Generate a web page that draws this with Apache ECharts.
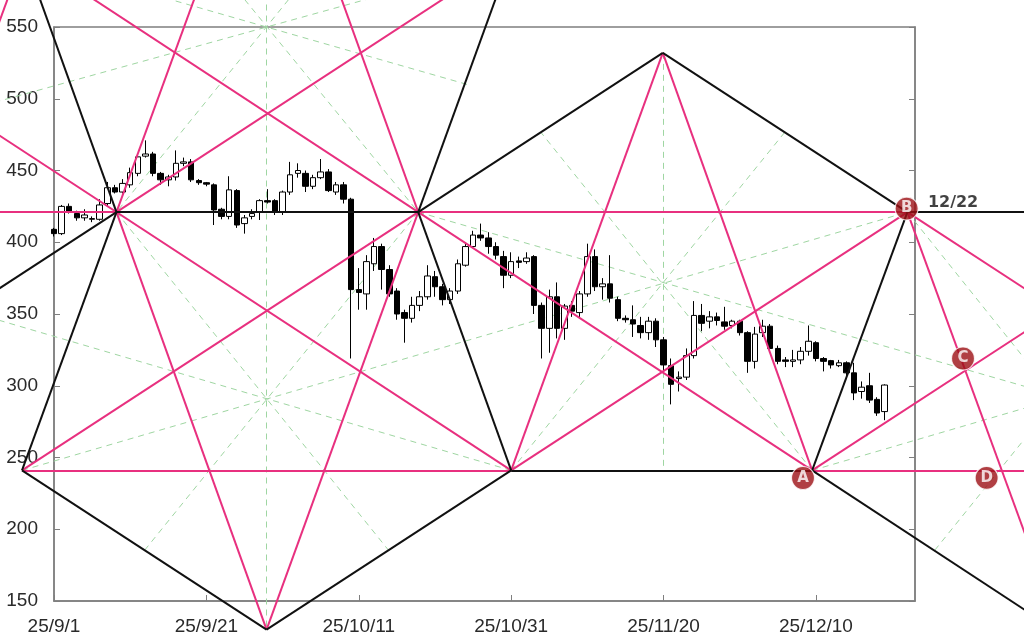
<!DOCTYPE html>
<html>
<head>
<meta charset="utf-8">
<script src="https://cdn.jsdelivr.net/npm/echarts@6/dist/echarts.min.js"></script>
<style>
  body { margin: 0; background: #fff; }
  #chart { width: 1024px; height: 643px; }
</style>
</head>
<body>
<div id="chart"></div>
<script>
  // days counted from 2025/9/1, one candle per day
  const opens = [409, 406, 425, 420, 417, 416, 416, 427, 438, 435, 440, 448, 460, 461.5, 448, 443.5, 445.5, 455, 456, 443,
    441.5, 440, 423, 418, 436, 413, 418, 421, 429, 429, 421, 435, 448, 448, 439, 445, 449, 435, 440, 430,
    367, 364, 385, 397, 381, 366, 351, 347, 356, 362, 376, 369, 360, 366, 384, 397, 405, 403, 397, 390,
    377, 387, 386.5, 390, 356, 340, 362, 340, 356, 351, 364, 390, 369, 371, 360, 347, 346, 342, 337, 345,
    332, 314, 305, 306, 321, 349, 345, 348, 344.5, 342, 345, 337, 317, 337, 341.5, 326, 318, 317, 318, 324,
    330, 319, 317.5, 314, 316, 309, 296, 300, 290.5, 282]
  const closes = [406, 425, 421, 417, 419, 416.5, 426, 438, 435, 441, 448.5, 459.5, 461.5, 448, 443.5, 445.5, 455, 456, 443.5, 441.5,
    440.5, 422.5, 418, 436.5, 412, 417, 420, 429, 428, 421, 435, 447, 450, 439, 445, 449, 436, 440, 430, 367,
    365, 386.5, 397, 381, 364, 350, 347, 356, 362, 376.5, 369, 360, 366, 385, 397, 405, 403, 397, 391, 377,
    386.5, 386, 389, 356, 340, 362, 340, 355.5, 352, 364, 390, 369, 371, 361, 347, 346, 343, 337, 345, 332,
    314.5, 301, 306, 321, 349, 343.5, 348, 345.5, 341.5, 345, 337, 317, 336, 341.5, 326, 317, 317, 318, 324, 331,
    319, 317, 314.5, 316, 309, 295, 299, 290, 281, 300.5]
  const lows = [404, 405, 420, 415, 415, 414, 415, 425, 434, 434, 438, 446, 459, 446, 440, 439, 443, 453, 442, 440,
    439, 412, 416, 416, 410, 406, 416, 415.5, 427, 419, 419, 433, 445, 435, 437, 444, 435, 433, 427, 319,
    353, 353, 380, 367, 362, 346, 330, 344, 352, 360, 362, 356, 357, 364, 383, 396, 401, 392, 388, 368,
    375, 382, 385, 350, 319, 323, 333, 332, 348, 347, 362, 366, 360, 358, 345, 344, 334, 333, 332, 327,
    310, 287, 296, 304, 319, 338, 340, 342, 339, 340, 335, 309, 312, 334, 324, 315, 313, 313, 315, 321,
    317, 310, 312, 313, 305, 290, 291, 288, 279, 276]
  const highs = [410, 426, 427, 422, 423, 418, 430, 442, 440, 444, 452, 461, 471, 463, 449, 447, 464, 459, 458, 444,
    442, 441, 424, 446, 437, 419, 423, 430, 437, 430, 436, 456, 455, 450, 447, 458, 451, 442, 442, 431,
    382, 391, 403, 399, 384, 368, 353, 362, 366, 384, 380, 371, 368, 388, 400, 408, 413, 407, 400, 394,
    393, 390, 393, 391, 358, 367, 372, 357, 359, 366, 399, 395, 375, 391, 362, 349, 356, 348, 348, 347,
    334, 319, 310, 326, 359, 357, 352, 351, 355, 346, 346, 338, 341, 346, 343, 328, 320, 325, 327, 342,
    331, 320, 318, 318, 317, 316, 303, 309, 292, 301]

  const yTicks = [150, 550, 50]   // min, max, step
  const dayRange = [0, 113, 20]   // 9/1 .. 12/23, label every 20 days

  // drawing, in [day, price]
  const pinkSegs = [
    [[-8, 421], [8.2, 421]], [[47.8, 421], [112, 421]],
    [[-4.2, 241], [60, 241]], [[99.5, 241], [130, 241]],
    [[8.2, 421], [19.2, 581]], [[8.2, 421], [27.9, 130]],
    [[27.9, 130], [47.8, 421]], [[36.95, 581], [47.8, 421]],
    [[60, 241], [79.9, 532]], [[79.9, 532], [99.5, 241]],
    [[112, 421], [134.1, 100]], [[-9.5, 520], [-5.5, 578]],
    [[-12, 491.2], [60, 241]], [[8.2, 421], [54.4, 581]],
    [[-4.2, 241], [47.8, 421]], [[1.85, 581], [99.5, 241]],
    [[60, 241], [112, 421]], [[99.5, 241], [130, 346.5]],
    [[112, 421], [130, 358.7]]
  ]
  const blackSegs = [
    [[8.2, 421], [47.8, 421]], [[112, 421], [130, 421]],
    [[60, 241], [99.5, 241]], [[-4.2, 241], [8.2, 421]],
    [[-2.63, 581], [8.2, 421]], [[47.8, 421], [58.74, 581]],
    [[47.8, 421], [60, 241]], [[99.5, 241], [112, 421]],
    [[-12, 351.1], [8.2, 421]], [[-4.2, 241], [27.9, 130]],
    [[27.9, 130], [60, 241]], [[47.8, 421], [79.9, 532]],
    [[99.5, 241], [130, 134.8]], [[79.9, 532], [112, 421]]
  ]
  const greenSegs = [
    [[27.9, 581], [27.9, 130]], [[79.9, 532], [79.9, 241]],
    [[-4.2, 241], [112, 421]], [[60, 241], [-12, 353.1]],
    [[47.8, 421], [130, 295.6]], [[8.2, 421], [43.9, 185.4]],
    [[47.8, 421], [11.9, 185.4]], [[60, 241], [95.9, 476.6]],
    [[99.5, 241], [63.9, 476.6]], [[32.6, 581], [8.2, 421]],
    [[23.2, 581], [47.8, 421]], [[-12, 491.3], [49, 581]],
    [[54.2, 510], [7.5, 581]], [[112, 421], [137, 255]],
    [[99.5, 241], [140, 304]], [[115.6, 185.4], [140, 346]]
  ]

  const markNames = ['A', 'B', 'C', 'D']
  const markDays = [98.3, 111.9, 119.3, 122.4]
  const markPrices = [235.7, 423.5, 319, 235.8]

  const tagTexts = ['12/22']
  const tagDays = [112]
  const tagPrices = [421]

  const candles = opens.map((o, i) => [i, o, closes[i], lows[i], highs[i]])

  function dayLabel(v) {
    const d = new Date(2025, 8, 1 + Math.round(v))
    return '25/' + (d.getMonth() + 1) + '/' + d.getDate()
  }

  function segSeries(segs, color, width, type, z) {
    return {
      type: 'lines',
      coordinateSystem: 'cartesian2d',
      polyline: false,
      clip: false,
      silent: true,
      z: z,
      lineStyle: { color: color, width: width, type: type, opacity: 1, curveness: 0 },
      data: segs.map(s => ({ coords: s }))
    }
  }

  const chart = echarts.init(document.getElementById('chart'))
  chart.setOption({
    animation: false,
    backgroundColor: '#fff',
    grid: {
      left: 54, right: 109, top: 27, bottom: 42,
      show: true, borderColor: '#7f7f7f', borderWidth: 1.5, backgroundColor: 'transparent'
    },
    xAxis: {
      type: 'value',
      min: dayRange[0], max: dayRange[1], interval: dayRange[2],
      axisLine: { show: true, lineStyle: { color: '#7f7f7f', width: 1.5 } },
      axisTick: { show: true, inside: true, length: 6, lineStyle: { color: '#7f7f7f' } },
      splitLine: { show: false },
      axisLabel: {
        formatter: dayLabel, showMaxLabel: false, margin: 16,
        color: '#2a2a2a', fontSize: 19, fontFamily: 'Liberation Sans'
      }
    },
    yAxis: [{
      type: 'value',
      min: yTicks[0], max: yTicks[1], interval: yTicks[2],
      axisLine: { show: true, lineStyle: { color: '#7f7f7f', width: 1.5 } },
      axisTick: { show: true, inside: true, length: 6, lineStyle: { color: '#7f7f7f' } },
      splitLine: { show: false },
      axisLabel: { margin: 16, color: '#2a2a2a', fontSize: 19, fontFamily: 'Liberation Sans' }
    }, {
      type: 'value', position: 'right',
      min: yTicks[0], max: yTicks[1], interval: yTicks[2],
      axisLine: { show: true, lineStyle: { color: '#7f7f7f', width: 1.5 } },
      axisTick: { show: true, inside: true, length: 6, lineStyle: { color: '#7f7f7f' } },
      splitLine: { show: false },
      axisLabel: { show: false }
    }],
    series: [
      segSeries(greenSegs, '#9fd6a2', 1, [6, 5], 1),
      {
        type: 'candlestick',
        z: 2,
        barWidth: 6,
        data: candles,
        itemStyle: {
          color: '#ffffff', color0: '#000000',
          borderColor: '#000000', borderColor0: '#000000', borderWidth: 1
        }
      },
      segSeries(pinkSegs, '#e8307f', 2, 'solid', 3),
      segSeries(blackSegs, '#111111', 2, 'solid', 4),
      {
        type: 'scatter',
        clip: false,
        silent: true,
        z: 10,
        symbolSize: 23,
        itemStyle: { color: '#9c0f14', borderColor: '#ffffff', borderWidth: 1.2 },
        label: {
          show: true, position: 'inside', formatter: '{b}',
          color: '#fff', fontWeight: 'bold', fontSize: 15, fontFamily: 'DejaVu Sans'
        },
        data: markNames.map((n, i) => ({ name: n, value: [markDays[i], markPrices[i]] }))
      },
      {
        type: 'scatter',
        clip: false,
        silent: true,
        z: 10,
        symbolSize: 1,
        itemStyle: { color: 'rgba(0,0,0,0)' },
        label: {
          show: true, position: 'right', distance: 20, offset: [0, -9], formatter: '{b}',
          color: '#111', fontWeight: 'bold', fontSize: 16, fontFamily: 'DejaVu Sans'
        },
        data: tagTexts.map((t, i) => ({ name: t, value: [tagDays[i], tagPrices[i]] }))
      }
    ]
  })
</script>
</body>
</html>
